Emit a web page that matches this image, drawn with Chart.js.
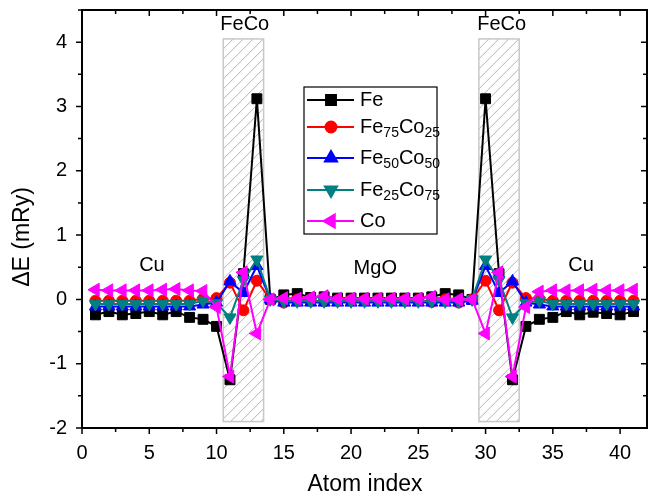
<!DOCTYPE html>
<html>
<head>
<meta charset="utf-8">
<script src="https://cdn.jsdelivr.net/npm/chart.js@4.4.0/dist/chart.umd.min.js"></script>
<style>
	html, body { margin: 0; padding: 0; background: #fff; }
</style>
</head>
<body>
<canvas id="myChart" width="648" height="496"></canvas>
<script>
	var atomIndex = [1,2,3,4,5,6,7,8,9,10,11,12,13,14,15,16,17,18,19,20,21,22,23,24,25,26,27,28,29,30,31,32,33,34,35,36,37,38,39,40,41];

	var fe       = [-0.24,-0.19,-0.24,-0.22,-0.19,-0.24,-0.19,-0.28,-0.31,-0.42,-1.25,0.40,3.12,0.00,0.07,0.09,0.03,0.04,0.02,0.02,0.02,0.02,0.02,0.02,0.02,0.04,0.09,0.07,0.00,3.12,0.40,-1.25,-0.42,-0.31,-0.28,-0.19,-0.24,-0.20,-0.22,-0.24,-0.19];
	var fe75co25 = [-0.02,-0.02,-0.02,-0.02,-0.02,-0.02,-0.02,-0.02,0.01,0.02,0.26,-0.17,0.29,0.00,-0.05,0.00,-0.02,-0.03,-0.01,-0.01,-0.01,-0.01,-0.01,-0.01,-0.01,-0.04,0.00,-0.05,0.00,0.29,-0.17,0.26,0.02,0.01,-0.02,-0.02,-0.02,-0.02,-0.02,-0.02,-0.02];
	var fe50co50 = [-0.11,-0.11,-0.11,-0.11,-0.11,-0.11,-0.11,-0.11,-0.08,-0.05,0.28,0.10,0.52,0.00,-0.05,-0.05,-0.05,-0.05,-0.05,-0.05,-0.05,-0.05,-0.05,-0.05,-0.05,-0.05,-0.05,-0.05,-0.02,0.52,0.10,0.28,-0.05,-0.08,-0.11,-0.11,-0.11,-0.11,-0.11,-0.11,-0.11];
	var fe25co75 = [-0.07,-0.07,-0.07,-0.07,-0.07,-0.07,-0.07,-0.07,-0.02,-0.06,-0.28,0.30,0.62,0.00,-0.03,-0.03,-0.03,-0.03,-0.03,-0.03,-0.03,-0.03,-0.03,-0.03,-0.03,-0.03,-0.03,-0.03,0.00,0.62,0.30,-0.28,-0.06,-0.02,-0.07,-0.07,-0.07,-0.07,-0.07,-0.07,-0.07];
	var co       = [0.15,0.14,0.14,0.14,0.14,0.15,0.16,0.14,0.13,-0.12,-1.20,0.42,-0.53,0.00,0.02,0.01,0.03,0.05,0.01,0.01,0.01,0.01,0.01,0.01,0.01,0.04,0.00,0.00,0.00,-0.53,0.42,-1.20,-0.12,0.12,0.14,0.14,0.14,0.15,0.14,0.14,0.15];

	var seriesNames = ['Fe', 'Fe_{75}Co_{25}', 'Fe_{50}Co_{50}', 'Fe_{25}Co_{75}', 'Co'];
	var xTicks = [0,5,10,15,20,25,30,35,40];
	var yTicks = [-2,-1,0,1,2,3,4];

	var FONT = '"Liberation Sans", Arial, sans-serif';
	var colors = ['#000000', '#ff0000', '#0000ff', '#008080', '#ff00ff'];
	var shapes = ['rect', 'circle', 'triangle', 'triangle', 'triangle'];
	var rotations = [0, 0, 0, 180, -90];
	var radii = [7, 5.5, 7, 7, 7.5];
	var allSeries = [fe, fe75co25, fe50co50, fe25co75, co];

	function toPoints(vals){
		return vals.map(function(v, i){ return {x: atomIndex[i], y: v}; });
	}

	// text with _{..} subscripts
	function drawLabel(c, txt, x, y){
		var parts = txt.split(/_\{(\d+)\}/);
		for (var i = 0; i < parts.length; i++){
			if (!parts[i]) continue;
			var sub = i % 2 === 1;
			c.font = (sub ? '14px ' : '20px ') + FONT;
			c.fillText(parts[i], x, y + (sub ? 6 : 0));
			x += c.measureText(parts[i]).width;
		}
	}

	var decor = {
		id: 'decor',
		beforeDatasetsDraw: function(chart){
			var c = chart.ctx, sx = chart.scales.x, sy = chart.scales.y;
			[[10.5, 13.5], [29.5, 32.5]].forEach(function(b){
				var l = sx.getPixelForValue(b[0]), r = sx.getPixelForValue(b[1]);
				var t = sy.getPixelForValue(4.05), btm = sy.getPixelForValue(-1.9);
				var h = btm - t;
				c.save();
				c.beginPath(); c.rect(l, t, r - l, h); c.clip();
				c.strokeStyle = '#b4b4b4'; c.lineWidth = 1;
				c.beginPath();
				for (var k = l - h; k < r + 10; k += 10){ c.moveTo(k, btm); c.lineTo(k + h, t); }
				c.stroke();
				c.restore();
				c.save();
				c.strokeStyle = '#c8c8c8'; c.lineWidth = 1.5;
				c.strokeRect(l, t, r - l, h);
				c.restore();
			});
		},
		afterDraw: function(chart){
			var c = chart.ctx, sx = chart.scales.x, sy = chart.scales.y, a = chart.chartArea;
			c.save();
			// frame
			c.strokeStyle = '#000'; c.lineWidth = 2;
			c.strokeRect(a.left, a.top, a.right - a.left, a.bottom - a.top);
			// ticks
			c.lineWidth = 1.5;
			c.beginPath();
			for (var v = 0; v <= 42; v += 2.5){
				var px = sx.getPixelForValue(v), len = (v % 5 === 0) ? 6 : 4;
				c.moveTo(px, a.bottom); c.lineTo(px, a.bottom + len);
				c.moveTo(px, a.top); c.lineTo(px, a.top + len);
			}
			for (var w = -2; w <= 4.5; w += 0.5){
				var py = sy.getPixelForValue(w), ln = (w % 1 === 0) ? 6 : 4;
				c.moveTo(a.left - ln, py); c.lineTo(a.left, py);
				c.moveTo(a.right - ln, py); c.lineTo(a.right, py);
			}
			c.stroke();

			// region labels
			c.fillStyle = '#000';
			c.textAlign = 'center'; c.textBaseline = 'middle';
			c.font = '20px ' + FONT;
			[['FeCo', 12.1, 4.27], ['FeCo', 31.2, 4.27], ['Cu', 5.2, 0.53], ['MgO', 21.8, 0.48], ['Cu', 37.1, 0.53]].forEach(function(t){
				c.fillText(t[0], sx.getPixelForValue(t[1]), sy.getPixelForValue(t[2]));
			});

			// axis titles
			c.font = '23px ' + FONT;
			c.fillText('Atom index', 365, 485);
			c.save();
			c.translate(23, 237); c.rotate(-Math.PI / 2);
			c.fillText('\u0394E (mRy)', 0, 0);
			c.restore();

			// legend
			var bx = 304, by = 87, bw = 133, bh = 147;
			c.fillStyle = '#fff'; c.fillRect(bx, by, bw, bh);
			c.strokeStyle = '#000'; c.lineWidth = 1.2; c.strokeRect(bx, by, bw, bh);
			var rows = [13, 40, 71, 103, 134];
			chart.data.datasets.forEach(function(ds, i){
				var ry = by + rows[i];
				c.strokeStyle = ds.borderColor; c.lineWidth = 2;
				c.beginPath(); c.moveTo(bx + 3, ry); c.lineTo(bx + 50, ry); c.stroke();
				c.fillStyle = ds.pointBackgroundColor;
				Chart.helpers.drawPoint(c, {pointStyle: ds.pointStyle, rotation: ds.pointRotation, radius: ds.pointRadius, borderWidth: 1}, bx + 27, ry);
				c.fillStyle = '#000'; c.textAlign = 'left'; c.textBaseline = 'middle';
				drawLabel(c, seriesNames[i], bx + 56, ry);
			});
			c.restore();
		}
	};

	var ctx = document.getElementById('myChart');
	var myChart = new Chart(ctx, {
		type: 'line',
		data: {
			datasets: allSeries.map(function(vals, i){
				return {
					label: seriesNames[i].replace(/_\{(\d+)\}/g, '$1'),
					data: toPoints(vals),
					borderColor: colors[i],
					backgroundColor: colors[i],
					pointBackgroundColor: colors[i],
					pointBorderColor: colors[i],
					pointStyle: shapes[i],
					pointRotation: rotations[i],
					pointRadius: radii[i],
					pointBorderWidth: 1,
					borderWidth: 2,
					tension: 0,
					order: 4 - i
				};
			})
		},
		options: {
			responsive: false,
			animation: false,
			events: [],
			layout: { autoPadding: false, padding: { top: 10, right: 1, left: 0, bottom: 0 } },
			plugins: { legend: { display: false }, tooltip: { enabled: false } },
			scales: {
				x: {
					type: 'linear', min: 0, max: 42,
					grid: { display: false, drawTicks: false },
					border: { display: false },
					ticks: { font: { family: FONT, size: 20 }, color: '#000', padding: 13, maxRotation: 0 },
					afterBuildTicks: function(s){ s.ticks = xTicks.map(function(v){ return {value: v}; }); },
					afterFit: function(s){ s.height = 68; s.paddingLeft = 0; s.paddingRight = 0; }
				},
				y: {
					min: -2, max: 4.5,
					grid: { display: false, drawTicks: false },
					border: { display: false },
					ticks: { font: { family: FONT, size: 20 }, color: '#000', padding: 15 },
					afterBuildTicks: function(s){ s.ticks = yTicks.map(function(v){ return {value: v}; }); },
					afterFit: function(s){ s.width = 82; s.paddingTop = 0; s.paddingBottom = 0; }
				}
			}
		},
		plugins: [decor]
	});
</script>
</body>
</html>
